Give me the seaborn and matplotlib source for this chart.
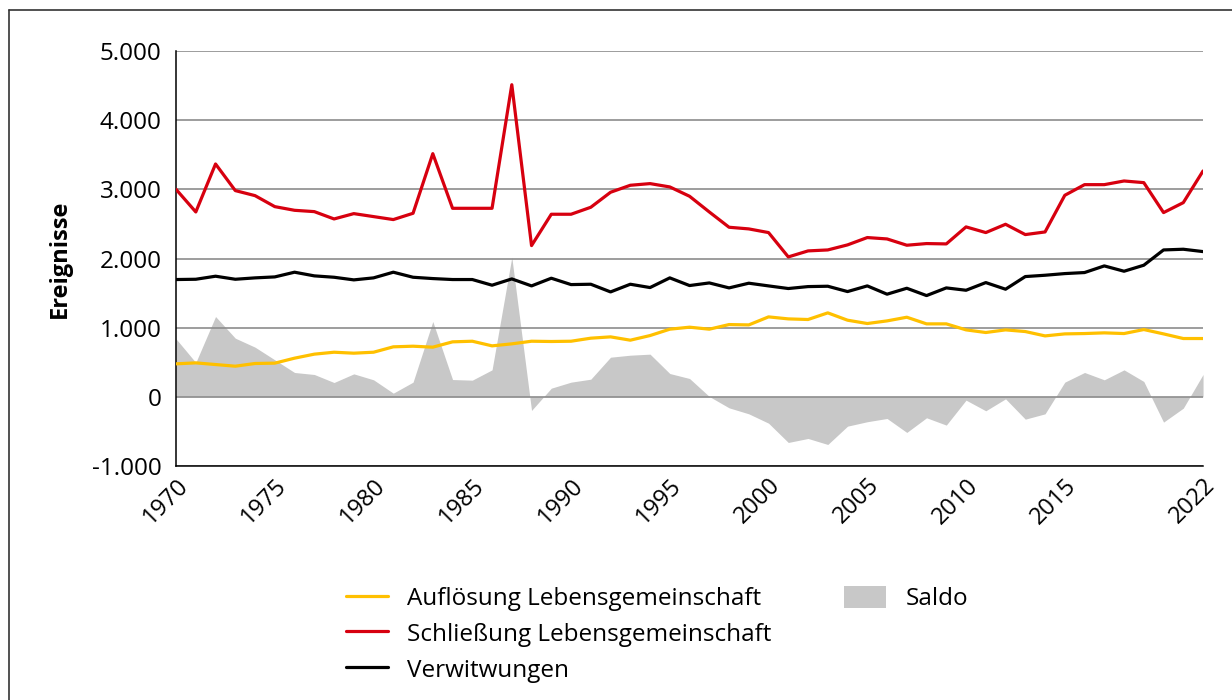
import numpy as np
import pandas as pd
import seaborn as sns
import matplotlib.pyplot as plt
import matplotlib.ticker as mticker
from matplotlib.lines import Line2D
from matplotlib.patches import Patch

# Daten
jahre = list(range(1970, 2023))

aufloesung = [477, 491, 467, 443, 482, 487, 559, 617, 645, 631,
              645, 723, 732, 718, 795, 804, 737, 766, 804, 800,
              804, 848, 867, 819, 886, 978, 1007, 978, 1045, 1040,
              1156, 1127, 1118, 1214, 1108, 1060, 1098, 1151, 1055, 1055,
              968, 930, 968, 944, 881, 910, 915, 925, 915, 973,
              910, 843, 843]

schliessung = [3000, 2673, 3367, 2982, 2909, 2750, 2697, 2678, 2572, 2649,
               2606, 2563, 2654, 3516, 2726, 2726, 2726, 4513, 2187, 2640,
               2640, 2741, 2958, 3059, 3083, 3035, 2900, 2673, 2452, 2428,
               2375, 2023, 2110, 2124, 2197, 2303, 2283, 2192, 2216, 2211,
               2457, 2375, 2495, 2346, 2384, 2914, 3068, 3068, 3121, 3097,
               2664, 2808, 3266]

verwitwungen = [1696, 1700, 1744, 1700, 1720, 1734, 1802, 1749, 1729, 1691,
                1720, 1802, 1729, 1710, 1696, 1696, 1614, 1705, 1604, 1715,
                1623, 1628, 1517, 1628, 1580, 1720, 1609, 1647, 1575, 1643,
                1604, 1566, 1594, 1599, 1522, 1604, 1484, 1570, 1464, 1575,
                1541, 1652, 1556, 1739, 1758, 1782, 1797, 1893, 1816, 1903,
                2124, 2134, 2100]

saldo = [838, 496, 1161, 848, 718, 535, 352, 323, 207, 332,
         246, 53, 212, 1089, 250, 241, 390, 2018, -197, 125,
         212, 255, 573, 602, 617, 337, 265, 5, -159, -246,
         -381, -660, -602, -689, -424, -360, -313, -515, -303, -409,
         -48, -202, -29, -323, -246, 212, 352, 246, 390, 222,
         -366, -164, 323]

major_jahre = [1970, 1975, 1980, 1985, 1990, 1995, 2000, 2005, 2010, 2015, 2022]

df = pd.DataFrame({'Jahr': jahre, 'Auflösung': aufloesung, 'Schließung': schliessung,
                   'Verwitwungen': verwitwungen, 'Saldo': saldo})

sns.set_style('white')
plt.rcParams['font.family'] = ['Open Sans', 'DejaVu Sans']
plt.rcParams['text.color'] = 'black'
plt.rcParams['axes.labelcolor'] = 'black'
plt.rcParams['xtick.color'] = 'black'
plt.rcParams['ytick.color'] = 'black'

fig = plt.figure(figsize=(12.32, 7.0), dpi=100)
ax = fig.add_axes([0.1429, 0.3343, 0.8336, 0.5928])

gelb = '#FFC000'
rot = '#D7000F'
grau = '#C8C8C8'

# Saldo als Fläche (hinter dem Gitter)
ax.fill_between(df['Jahr'], df['Saldo'], 0, color=grau, linewidth=0, zorder=0.3)

sns.lineplot(data=df, x='Jahr', y='Auflösung', color=gelb, linewidth=2.3, ax=ax, zorder=3)
sns.lineplot(data=df, x='Jahr', y='Schließung', color=rot, linewidth=2.3, ax=ax, zorder=3)
sns.lineplot(data=df, x='Jahr', y='Verwitwungen', color='black', linewidth=2.3, ax=ax, zorder=3)

ax.set_xlim(1970, 2022)
ax.set_ylim(-1000, 5000)
ax.set_yticks(range(-1000, 5001, 1000))
ax.yaxis.set_major_formatter(mticker.FuncFormatter(lambda v, p: f'{int(v):,}'.replace(',', '.')))
ax.grid(axis='y', color='#8C8C8C', linewidth=1.2)
ax.set_axisbelow(True)

ax.set_xticks(major_jahre)
ax.set_xticks(jahre, minor=True)
ax.tick_params(axis='both', which='both', direction='out', length=6.5, width=1.0,
               color='black', labelcolor='black')
ax.tick_params(axis='y', labelsize=17.5, pad=4)
ax.tick_params(axis='x', labelsize=17, pad=-1)
for lbl in ax.get_xticklabels():
    lbl.set_rotation(45)
    lbl.set_ha('right')
    lbl.set_rotation_mode('anchor')

for s in ['top', 'right']:
    ax.spines[s].set_visible(False)
for s in ['left', 'bottom']:
    ax.spines[s].set_color('black')
    ax.spines[s].set_linewidth(1.1)

ax.set_xlabel('')
ax.set_ylabel('Ereignisse', fontsize=17, fontweight='bold', labelpad=14, color='black')

# Legende
leer = Line2D([], [], color='none')
handles = [Line2D([], [], color=gelb, linewidth=2.3),
           Line2D([], [], color=rot, linewidth=2.3),
           Line2D([], [], color='black', linewidth=2.3),
           Patch(facecolor=grau, edgecolor='none'),
           leer, leer]
labels = ['Auflösung Lebensgemeinschaft', 'Schließung Lebensgemeinschaft', 'Verwitwungen',
          'Saldo', '', '']
fig.legend(handles, labels, ncol=2, loc='upper left', bbox_to_anchor=(0.2808, 0.163),
           frameon=False, fontsize=17.5, handlelength=1.73, handleheight=1.0,
           handletextpad=0.78, columnspacing=3.0, labelspacing=0.44,
           borderaxespad=0, borderpad=0)

# Rahmen
fig.add_artist(Line2D([0.0073, 1.0], [0.986, 0.986], transform=fig.transFigure, color='#333333', linewidth=1.2))
fig.add_artist(Line2D([0.0073, 0.0073], [0.0, 0.986], transform=fig.transFigure, color='#333333', linewidth=1.2))

plt.savefig('out.png', dpi=100)
